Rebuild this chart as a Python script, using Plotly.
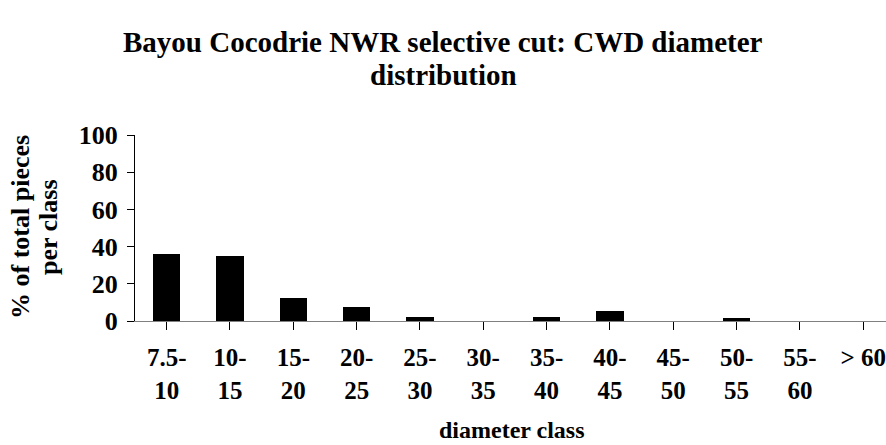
import plotly.graph_objects as go

categories = ["7.5-<br>10", "10-<br>15", "15-<br>20", "20-<br>25", "25-<br>30", "30-<br>35",
              "35-<br>40", "40-<br>45", "45-<br>50", "50-<br>55", "55-<br>60", "> 60"]
values = [36.1, 35.0, 12.3, 7.3, 2.4, 0, 2.4, 5.4, 0, 1.4, 0, 0]
y_ticks = [0, 20, 40, 60, 80, 100]
title_lines = ["Bayou Cocodrie NWR selective cut: CWD diameter", "distribution"]
ytitle_lines = ["% of total pieces", "per class"]
xtitle = "diameter class"

FONT = "Liberation Serif, Times New Roman, serif"
W, H = 886, 445
L, R, T, B = 135, 0, 135, 124
PW = W - L - R
PH = H - T - B

fig = go.Figure(go.Bar(x=list(range(len(categories))), y=values,
                       marker=dict(color="black", line=dict(width=0)),
                       width=0.43, hoverinfo="skip"))

def px_to_paper_x(px):
    return (px - L) / PW

def px_to_paper_y(py):
    return (H - B - py) / PH

annotations = []
for text, ypx in zip(title_lines, [42, 75]):
    annotations.append(dict(text="<b>%s</b>" % text, xref="paper", yref="paper",
                            x=px_to_paper_x(443), y=px_to_paper_y(ypx),
                            xanchor="center", yanchor="middle", showarrow=False,
                            font=dict(size=29, family=FONT, color="black")))
for text, xpx in zip(ytitle_lines, [20, 48]):
    annotations.append(dict(text="<b>%s</b>" % text, xref="paper", yref="paper",
                            x=px_to_paper_x(xpx), y=px_to_paper_y(227),
                            xanchor="center", yanchor="middle", showarrow=False, textangle=-90,
                            font=dict(size=26, family=FONT, color="black")))
annotations.append(dict(text="<b>%s</b>" % xtitle, xref="paper", yref="paper",
                        x=px_to_paper_x(512), y=px_to_paper_y(430),
                        xanchor="center", yanchor="middle", showarrow=False,
                        font=dict(size=24, family=FONT, color="black")))

fig.update_layout(
    width=W, height=H,
    paper_bgcolor="white", plot_bgcolor="white",
    margin=dict(l=L, r=R, t=T, b=B, autoexpand=False),
    font=dict(family=FONT, color="black"),
    showlegend=False,
    bargap=0,
    annotations=annotations,
    hovermode=False,
)
fig.update_xaxes(
    range=[-0.5, 11.36], automargin=False,
    tickmode="array", tickvals=list(range(len(categories))),
    ticktext=["<b>%s</b>" % c for c in categories],
    tickfont=dict(size=25, family=FONT, color="black"),
    ticks="outside", ticklen=8, tickcolor="black", tickwidth=1,
    tickson="boundaries", tickangle=0, ticklabelstandoff=6,
    showline=True, linecolor="#808080", linewidth=1,
    showgrid=False, zeroline=False,
)
fig.update_yaxes(
    range=[0, 100], automargin=False,
    tickmode="array", tickvals=y_ticks,
    ticktext=["<b>%d</b>" % t for t in y_ticks],
    tickfont=dict(size=26, family=FONT, color="black"),
    ticks="outside", ticklen=7, tickcolor="black", tickwidth=1,
    ticklabelstandoff=4,
    showline=True, linecolor="black", linewidth=1,
    showgrid=False, zeroline=False,
)

fig.write_html("out.html", config={"displayModeBar": False, "staticPlot": True},
               post_script="document.body.style.margin='0';document.body.style.overflow='hidden';")
